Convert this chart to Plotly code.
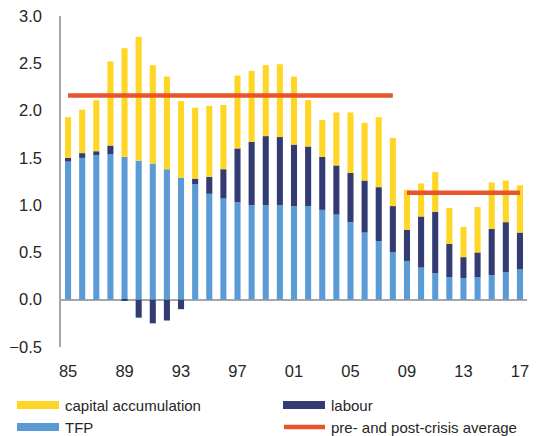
import plotly.graph_objects as go

# growth decomposition, pp contributions, 1985-2017
years = list(range(1985, 2018))
tfp = [1.46, 1.50, 1.53, 1.54, 1.51, 1.47, 1.44, 1.38, 1.29, 1.22, 1.12, 1.07,
       1.03, 1.00, 1.00, 1.00, 0.99, 0.99, 0.95, 0.90, 0.82, 0.71, 0.62, 0.50,
       0.41, 0.34, 0.28, 0.24, 0.23, 0.24, 0.26, 0.29, 0.32]
labour = [0.04, 0.05, 0.04, 0.09, -0.01, -0.19, -0.25, -0.22, -0.10, 0.06, 0.18, 0.31,
          0.57, 0.67, 0.73, 0.72, 0.65, 0.63, 0.56, 0.52, 0.52, 0.55, 0.57, 0.49,
          0.33, 0.54, 0.65, 0.35, 0.22, 0.26, 0.49, 0.53, 0.39]
capital = [0.43, 0.46, 0.54, 0.89, 1.15, 1.31, 1.04, 0.98, 0.81, 0.75, 0.75, 0.68,
           0.77, 0.75, 0.75, 0.77, 0.72, 0.49, 0.39, 0.56, 0.64, 0.61, 0.74, 0.72,
           0.42, 0.35, 0.42, 0.38, 0.32, 0.48, 0.49, 0.44, 0.50]
pre_years = [1985, 2008]
post_years = [2009, 2017]
pre_avg = 2.16
post_avg = 1.13
tick_years = [1985, 1989, 1993, 1997, 2001, 2005, 2009, 2013, 2017]
tick_text = ["85", "89", "93", "97", "01", "05", "09", "13", "17"]

C_CAP = "#FFD626"
C_LAB = "#323C73"
C_TFP = "#5B9BD5"
C_AVG = "#E9552A"
GREY = "#A6A6A6"
FONT = "Liberation Sans, Arial, sans-serif"

fig = go.Figure()
fig.add_trace(go.Bar(x=years, y=tfp, name="TFP", marker=dict(color=C_TFP, line_width=0)))
fig.add_trace(go.Bar(x=years, y=labour, name="labour", marker=dict(color=C_LAB, line_width=0)))
fig.add_trace(go.Bar(x=years, y=capital, name="capital accumulation",
                     marker=dict(color=C_CAP, line_width=0)))
fig.add_trace(go.Scatter(x=pre_years, y=[pre_avg] * 2, mode="lines",
                         line=dict(color=C_AVG, width=4.5), name="pre- and post-crisis average"))
fig.add_trace(go.Scatter(x=post_years, y=[post_avg] * 2, mode="lines",
                         line=dict(color=C_AVG, width=4.5), showlegend=False))

# page body has an 8px margin, so the figure is drawn 8px in from the top-left
OFF = 8
FW, FH = 539 - OFF, 436 - OFF
# plot area on screen: x 61..527, y 16..347
L, R, T, B = 61 - OFF, 539 - 527, 16 - OFF, 436 - 347
W, H = FW - L - R, FH - T - B


def px(x):
    # screen x -> paper x
    return (x - OFF - L) / W


def py(y):
    # screen y -> paper y
    return (FH - B - (y - OFF)) / H


# hand-drawn legend, two columns
legend_items = [
    ("capital accumulation", C_CAP, 17, 405, "bar"),
    ("labour", C_LAB, 283, 405, "bar"),
    ("TFP", C_TFP, 17, 427, "bar"),
    ("pre- and post-crisis average", C_AVG, 283, 427, "line"),
]
shapes, annotations = [], []
for label, color, x0, yc, kind in legend_items:
    if kind == "bar":
        shapes.append(dict(type="rect", xref="paper", yref="paper",
                           x0=px(x0), x1=px(x0 + 42), y0=py(yc - 4), y1=py(yc + 4),
                           fillcolor=color, line_width=0))
    else:
        shapes.append(dict(type="line", xref="paper", yref="paper",
                           x0=px(x0 + 1), x1=px(x0 + 42), y0=py(yc), y1=py(yc),
                           line=dict(color=color, width=4.5)))
    annotations.append(dict(text=label, xref="paper", yref="paper", x=px(x0 + 46), y=py(yc),
                            xanchor="left", yanchor="middle", showarrow=False,
                            font=dict(size=15, color="#262626", family=FONT)))

fig.update_layout(
    width=FW, height=FH,
    margin=dict(l=L, r=R, t=T, b=B, autoexpand=False),
    barmode="relative",
    bargap=0.57,
    plot_bgcolor="white",
    paper_bgcolor="white",
    showlegend=False,
    font=dict(family=FONT, size=16.5, color="#262626"),
    shapes=shapes,
    annotations=annotations,
    xaxis=dict(range=[1984.5, 2017.5], tickvals=tick_years, ticktext=tick_text,
               showgrid=False, showline=False, zeroline=False, ticks="",
               ticklabelstandoff=12, ticklabeloverflow="allow", automargin=False),
    yaxis=dict(range=[-0.5, 3.0], dtick=0.5, tickformat=".1f", showgrid=False,
               showline=True, linecolor=GREY, linewidth=1.5,
               zeroline=True, zerolinecolor=GREY, zerolinewidth=1.5,
               ticks="", ticklabelstandoff=14, ticklabeloverflow="allow",
               automargin=False),
)

fig.write_html("out.html")
